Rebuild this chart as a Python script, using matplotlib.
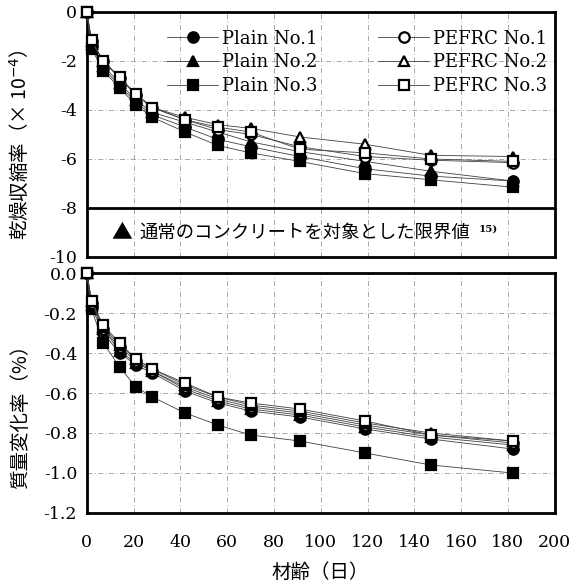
import numpy as np
import matplotlib
matplotlib.use('Agg')
import matplotlib.pyplot as plt
from matplotlib.ticker import FuncFormatter

plt.rcParams['font.family'] = ['DejaVu Serif']
plt.rcParams['axes.unicode_minus'] = False

# 材齢 (日)
days = [0, 2, 7, 14, 21, 28, 42, 56, 70, 91, 119, 147, 182]

# 乾燥収縮率 (x10^-4)
shr_plain1 = [0, -1.4, -2.3, -3.0, -3.7, -4.2, -4.7, -5.2, -5.5, -5.9, -6.4, -6.7, -6.9]
shr_plain2 = [0, -1.3, -2.2, -2.9, -3.6, -4.1, -4.5, -4.9, -5.3, -5.7, -6.1, -6.5, -6.9]
shr_plain3 = [0, -1.5, -2.4, -3.1, -3.8, -4.3, -4.9, -5.45, -5.75, -6.1, -6.6, -6.85, -7.15]
shr_pefrc1 = [0, -1.2, -2.0, -2.7, -3.4, -3.9, -4.4, -4.8, -5.0, -5.5, -5.9, -6.05, -6.15]
shr_pefrc2 = [0, -1.2, -2.0, -2.7, -3.35, -3.9, -4.3, -4.6, -4.75, -5.1, -5.4, -5.85, -5.9]
shr_pefrc3 = [0, -1.15, -2.0, -2.65, -3.35, -3.9, -4.4, -4.7, -4.9, -5.6, -5.75, -6.0, -6.1]

# 質量変化率 (%)
mass_plain1 = [0, -0.17, -0.30, -0.40, -0.46, -0.50, -0.59, -0.65, -0.69, -0.72, -0.78, -0.83, -0.88]
mass_plain2 = [0, -0.16, -0.28, -0.39, -0.45, -0.49, -0.58, -0.64, -0.68, -0.71, -0.77, -0.82, -0.86]
mass_plain3 = [0, -0.18, -0.35, -0.47, -0.57, -0.62, -0.70, -0.76, -0.81, -0.84, -0.90, -0.96, -1.00]
mass_pefrc1 = [0, -0.15, -0.28, -0.37, -0.44, -0.49, -0.57, -0.63, -0.67, -0.70, -0.76, -0.81, -0.85]
mass_pefrc2 = [0, -0.14, -0.27, -0.36, -0.43, -0.48, -0.56, -0.62, -0.66, -0.69, -0.75, -0.80, -0.84]
mass_pefrc3 = [0, -0.14, -0.26, -0.35, -0.43, -0.48, -0.55, -0.62, -0.65, -0.68, -0.74, -0.81, -0.84]

limit_value = -8
labels = ['Plain No.1', 'Plain No.2', 'Plain No.3', 'PEFRC No.1', 'PEFRC No.2', 'PEFRC No.3']
markers = ['o', '^', 's', 'o', '^', 's']
filled = [True, True, True, False, False, False]

jp = ['Noto Sans CJK JP', 'DejaVu Sans']

fig = plt.figure(figsize=(5.79, 5.84), dpi=100)
ax1 = fig.add_axes([0.150, 0.560, 0.808, 0.4195])
ax2 = fig.add_axes([0.150, 0.1216, 0.808, 0.4109])


def draw(ax, series):
    handles = []
    # open markers go on top of the filled ones
    for ys, lab, m, f in zip(series, labels, markers, filled):
        h, = ax.plot(days, ys, color='0.25', lw=0.6, marker=m, ms=7.5,
                     mfc='black' if f else 'white', mec='black', mew=1.6,
                     label=lab, clip_on=False, zorder=4 if f else 5)
        handles.append(h)
    ax.set_xlim(0, 200)
    ax.set_xticks(np.arange(0, 201, 20))
    ax.grid(True, color='0.6', lw=0.6, linestyle=(0, (6, 3, 1, 3)))
    ax.tick_params(length=0, labelsize=12.5)
    ax.tick_params(axis='y', pad=7)
    ax.tick_params(axis='x', pad=15)
    for s in ax.spines.values():
        s.set_linewidth(2.0)
    return handles


h = draw(ax1, [shr_plain1, shr_plain2, shr_plain3, shr_pefrc1, shr_pefrc2, shr_pefrc3])
ax1.set_ylim(-10, 0)
ax1.set_yticks(np.arange(-10, 1, 2))
ax1.set_xticklabels([])
ax1.axhline(limit_value, color='black', lw=2.0, zorder=3)
ytr = ax1.get_yaxis_transform()
ax1.text(0.075, -9.0, '▲', family=jp, fontsize=15, va='center', ha='center', transform=ytr)
ax1.text(0.113, -9.0, '通常のコンクリートを対象とした限界値', family=jp, fontsize=13.2,
         va='center', ha='left', transform=ytr)
ax1.text(0.838, -8.85, '15)', fontsize=7.5, va='center', ha='left', weight='bold', transform=ytr)
ax1.set_ylabel('乾燥収縮率（× 10$^{-4}$）', family=jp, fontsize=14)
ax1.yaxis.set_label_coords(-0.12, 0.46)
leg = ax1.legend(handles=h, ncol=2, loc='upper right', bbox_to_anchor=(1.01, 0.98),
                 frameon=False, fontsize=13, handlelength=2.8, columnspacing=3.4,
                 labelspacing=0.32, handletextpad=0.2, borderpad=0.2)

draw(ax2, [mass_plain1, mass_plain2, mass_plain3, mass_pefrc1, mass_pefrc2, mass_pefrc3])
ax2.set_ylim(-1.2, 0)
ax2.set_yticks(np.arange(-1.2, 0.01, 0.2))
ax2.yaxis.set_major_formatter(FuncFormatter(lambda v, p: '%.1f' % (0.0 if abs(v) < 1e-9 else v)))
ax2.set_ylabel('質量変化率（%）', family=jp, fontsize=14)
ax2.yaxis.set_label_coords(-0.12, 0.42)
ax2.set_xlabel('材齢（日）', family=jp, fontsize=14, labelpad=8)

fig.savefig('out.png', dpi=100)
